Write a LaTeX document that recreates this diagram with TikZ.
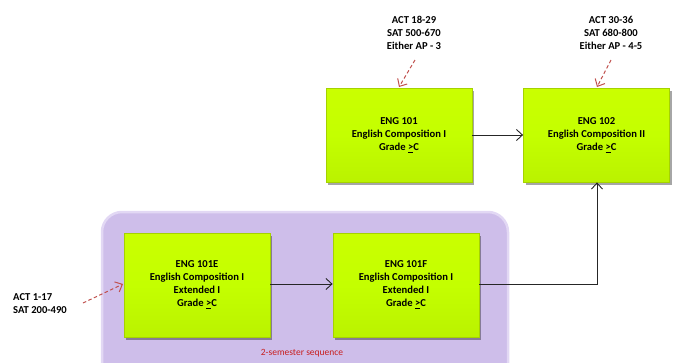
\documentclass[tikz,border=0pt]{standalone}
\usepackage{fontspec}
\setmainfont{Carlito}
\usetikzlibrary{arrows.meta,shadows}
\definecolor{lime}{RGB}{196,255,0}
\definecolor{limedark}{RGB}{165,210,0}
\definecolor{lav}{RGB}{206,190,234}
\definecolor{lavedge}{RGB}{226,216,244}
\definecolor{redarr}{RGB}{192,80,77}
\definecolor{redtxt}{RGB}{200,30,30}
\tikzset{
  course/.style={draw=limedark, line width=0.8pt, top color=lime!90!yellow, bottom color=lime!95!black, middle color=lime,
    minimum width=146pt, minimum height=94pt, inner sep=0pt, align=center,
    font=\bfseries\fontsize{10.6}{13}\selectfont,
    drop shadow={shadow xshift=2pt, shadow yshift=-2.5pt, fill=black, opacity=0.35}},
  req/.style={align=center, font=\bfseries\fontsize{10.6}{13}\selectfont, inner sep=0pt},
  flow/.style={-{Straight Barb[length=6pt,width=11pt]}, line width=0.9pt, black!85},
  entry/.style={-{Straight Barb[length=6pt,width=11pt]}, dash pattern=on 3.5pt off 2.5pt, line width=1pt, redarr},
}
\newcommand{\gradec}{Grade \underline{>}C}
\begin{document}
\begin{tikzpicture}[x=1pt,y=-1pt]
\useasboundingbox (0,0) rectangle (673,362);
% purple group
\node[draw=lavedge, line width=2.5pt, fill=lav, rounded corners=20pt, minimum width=406pt, minimum height=180pt, inner sep=0pt] (grp) at (305,302) {};
\node[font=\fontsize{9.5}{11}\selectfont, text=redtxt] (seqlbl) at (302,353) {2-semester sequence};
% courses
\node[course] (e101) at (399,135) {ENG 101\\English Composition I\\\gradec};
\node[course] (e102) at (596.5,135) {ENG 102\\English Composition II\\\gradec};
\node[course, minimum height=104pt] (e101e) at (197,285) {ENG 101E\\English Composition I\\Extended I\\\gradec};
\node[course, minimum height=104pt] (e101f) at (406,285) {ENG 101F\\English Composition I\\Extended I\\\gradec};
% requirement labels
\node[req] (r1) at (414,33) {ACT 18-29\\SAT 500-670\\Either AP - 3};
\node[req] (r2) at (611,33) {ACT 30-36\\SAT 680-800\\Either AP - 4-5};
\node[req, align=left, anchor=west] (r3) at (13,304) {ACT 1-17\\SAT 200-490};
% entry arrows
\coordinate (s1) at (415,60);
\coordinate (s2) at (611,60);
\coordinate (s3) at (83,303);
\draw[entry] (s1) -- (399,87);
\draw[entry] (s2) -- (597,87);
\draw[entry] (s3) -- (123,284);
% flow arrows
\draw[flow] (e101.east) -- (e102.west);
\draw[flow] (e101e.east |- 0,284) -- (e101f.west |- 0,284);
\draw[flow] (e101f.east |- 0,284) -| (e102.south -| 597,0);
\end{tikzpicture}
\end{document}
